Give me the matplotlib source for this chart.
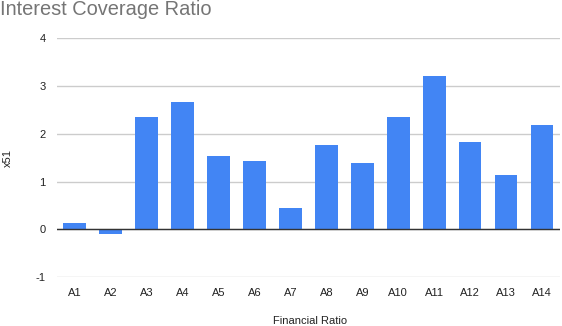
import numpy as np
import matplotlib.pyplot as plt

plt.rcParams['font.family'] = ['Liberation Sans', 'DejaVu Sans']
plt.rcParams['axes.unicode_minus'] = False

# data
labels = ["A1", "A2", "A3", "A4", "A5", "A6", "A7",
          "A8", "A9", "A10", "A11", "A12", "A13", "A14"]
values = [0.13, -0.09, 2.35, 2.66, 1.53, 1.43, 0.45,
          1.76, 1.39, 2.35, 3.21, 1.83, 1.14, 2.18]

fig = plt.figure(figsize=(5.62, 3.26), dpi=100)
ax = fig.add_axes([0.101, 0.150, 0.8955, 0.733])

x = np.arange(len(labels))
ax.bar(x, values, width=0.63, color="#4285f4", zorder=3)

ax.set_xlim(-0.5, len(labels) - 0.5)
ax.set_ylim(-1, 4)
ax.set_yticks([-1, 0, 1, 2, 3, 4])
ax.set_xticks(x)
ax.set_xticklabels(labels)
ax.grid(axis="y", color="#cccccc", linewidth=1, zorder=0)
ax.axhline(0, color="#333333", linewidth=1, zorder=4)

for s in ax.spines.values():
    s.set_visible(False)
ax.tick_params(length=0, labelsize=8, colors="#222222", pad=8)
ax.tick_params(axis="y", pad=8)

ax.set_ylabel("x51", fontsize=8, color="#222222")
ax.yaxis.set_label_coords(-0.087, 0.5)
fig.text(0.552, 0.016, "Financial Ratio", fontsize=8, color="#222222",
         ha="center", va="center")

fig.text(0.0, 0.97, "Interest Coverage Ratio", fontsize=14.4, color="#757575",
         ha="left", va="center")

fig.savefig("out.png", dpi=100)
